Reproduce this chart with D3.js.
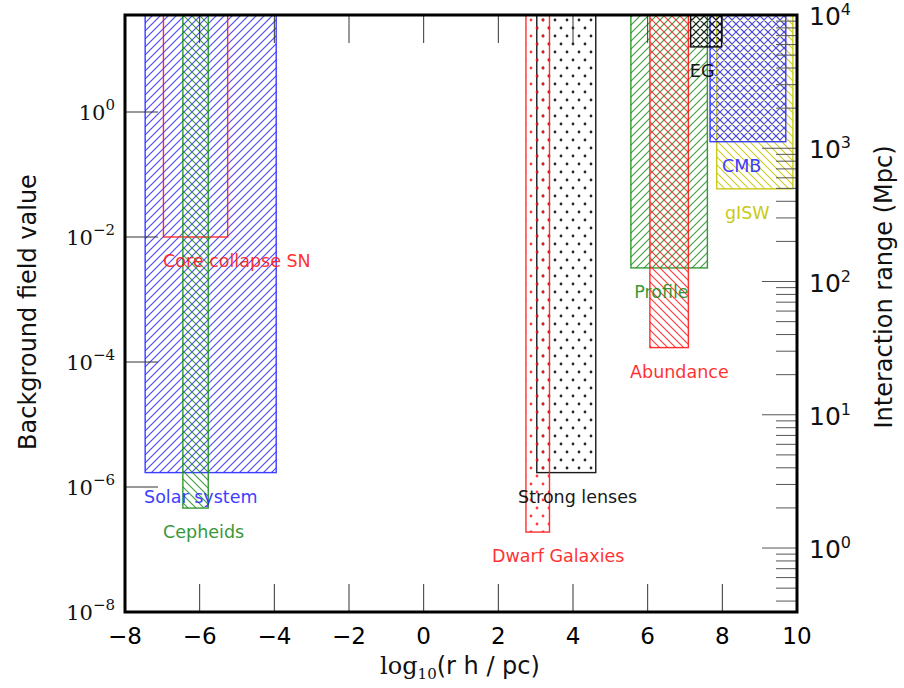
<!DOCTYPE html>
<html><head><meta charset="utf-8">
<script src="https://cdn.jsdelivr.net/npm/d3@7"></script>
<style>body{margin:0;background:#fff}svg{display:block}</style>
</head><body>
<svg id="c" width="904" height="688"></svg>
<script>
// ---- data ----
const names  = ["Solar system","Core collapse SN","Cepheids","Strong lenses","Dwarf Galaxies","Profile","Abundance","gISW","CMB","EG"];
const xMin   = [-7.46, -6.97, -6.45, 3.03, 2.74, 5.55, 6.06, 7.85, 7.67, 7.15];
const xMax   = [-3.95, -5.25, -5.77, 4.61, 3.37, 7.60, 7.09, 9.89, 9.70, 7.98];
const yMin   = [1.7e-6, 1e-2, 4.6e-7, 1.7e-6, 1.9e-7, 3.2e-3, 1.7e-4, 0.059, 0.335, 11];
const yMax   = [100, 100, 100, 100, 100, 100, 100, 100, 100, 100];
const colors = ["#2a2aff","#ff1a1a","#1f8f1f","#000000","#ff1a1a","#1f8f1f","#ff1a1a","#c4c400","#2a2aff","#000000"];
const hatches= ["/", "", "\\", ".", ".", "/", "\\", "\\", "x", "x"];
const labelX = [-7.49, -6.98, -6.98, 2.53, 1.83, 5.64, 5.53, 8.07, 7.99, 7.13];
const xTicks = [-8,-6,-4,-2,0,2,4,6,8,10];
const yLeftTicks = [-8,-6,-4,-2,0];       // exponents
const yRightTicks = [0,1,2,3,4];          // exponents

// ---- layout ----
const L=125, R=797, T=15, B=612;
const svg=d3.select("#c");
const x=d3.scaleLinear().domain([-8,10]).range([L,R]);
const yL=d3.scaleLog().domain([1e-8, Math.pow(10,1.552)]).range([B,T]);
const yR=d3.scaleLog().domain([Math.pow(10,-0.48), 1e4]).range([B,T]);

const defs=svg.append("defs");
defs.append("clipPath").attr("id","clip").append("rect")
  .attr("x",L).attr("y",T).attr("width",R-L).attr("height",B-T);

function hatchPattern(id,h,col){
  const s=8;
  if(h==="."){
    const p=defs.append("pattern").attr("id",id).attr("patternUnits","userSpaceOnUse")
      .attr("width",12).attr("height",16);
    [[3,4],[9,12]].forEach(d=>p.append("circle").attr("cx",d[0]).attr("cy",d[1]).attr("r",1.4).attr("fill",col));
    return;
  }
  const p=defs.append("pattern").attr("id",id).attr("patternUnits","userSpaceOnUse")
    .attr("width",s).attr("height",s);
  let dpath="";
  if(h==="/"||h==="x") dpath+=`M-1,1 L1,-1 M0,${s} L${s},0 M${s-1},${s+1} L${s+1},${s-1} `;
  if(h==="\\"||h==="x") dpath+=`M-1,${s-1} L1,${s+1} M0,0 L${s},${s} M${s-1},-1 L${s+1},1`;
  p.append("path").attr("d",dpath).attr("stroke",col).attr("stroke-width",1.15).attr("fill","none");
}

const g=svg.append("g").attr("clip-path","url(#clip)");
names.forEach((n,i)=>{
  const x0=x(xMin[i]), x1=x(xMax[i]), y0=yL(yMax[i]), y1=yL(yMin[i]);
  if(hatches[i]){
    const id="h"+i; hatchPattern(id,hatches[i],colors[i]);
    g.append("rect").attr("x",x0).attr("y",y0).attr("width",x1-x0).attr("height",y1-y0)
      .attr("fill",`url(#${id})`).attr("opacity",0.85);
  }
  g.append("rect").attr("x",x0).attr("y",y0).attr("width",x1-x0).attr("height",y1-y0)
    .attr("fill","none").attr("stroke",colors[i]).attr("stroke-width",1.4).attr("opacity",0.9);
});

// labels
names.forEach((n,i)=>{
  svg.append("text").attr("x",x(labelX[i])).attr("y",yL(yMin[i])+24)
    .attr("dominant-baseline","central")
    .attr("font-family","DejaVu Sans").attr("font-size",17.5)
    .attr("fill",colors[i]).attr("opacity",0.9).text(n);
});

// ticks
const tk=svg.append("g").attr("stroke","#333").attr("stroke-width",1);
xTicks.forEach(v=>{
  tk.append("line").attr("x1",x(v)).attr("x2",x(v)).attr("y1",B).attr("y2",B-28);
  tk.append("line").attr("x1",x(v)).attr("x2",x(v)).attr("y1",T).attr("y2",T+28);
});
yLeftTicks.forEach(e=>{
  const yy=yL(Math.pow(10,e));
  tk.append("line").attr("x1",L).attr("x2",L+33).attr("y1",yy).attr("y2",yy);
});
const rt=svg.append("g").attr("stroke","#555").attr("stroke-width",1);
yR.ticks(20).forEach(v=>{
  const yy=yR(v);
  if(yy<T-0.5||yy>B+0.5) return;
  const major=Math.abs(Math.log10(v)-Math.round(Math.log10(v)))<1e-9;
  rt.append("line").attr("x1",R).attr("x2",R-(major?35:21)).attr("y1",yy).attr("y2",yy);
});

// spines
svg.append("rect").attr("x",L).attr("y",T).attr("width",R-L).attr("height",B-T)
  .attr("fill","none").attr("stroke","#000").attr("stroke-width",3);

// x tick labels
xTicks.forEach(v=>{
  svg.append("text").attr("x",x(v)).attr("y",B+24).attr("text-anchor","middle")
    .attr("dominant-baseline","central").attr("font-family","DejaVu Sans").attr("font-size",23)
    .text(v<0?"\u2212"+Math.abs(v):String(v));
});
// left tick labels (serif, 10^e)
yLeftTicks.forEach(e=>{
  const t=svg.append("text").attr("x",L-10).attr("y",yL(Math.pow(10,e))+8).attr("text-anchor","end")
    .attr("font-family","DejaVu Serif").attr("font-size",21).attr("fill","#111");
  t.append("tspan").text("10");
  t.append("tspan").attr("dy",-10).attr("font-size",15).text(e<0?"\u2212"+Math.abs(e):String(e));
});
// right tick labels
yRightTicks.forEach(e=>{
  const t=svg.append("text").attr("x",R+12).attr("y",yR(Math.pow(10,e))+10)
    .attr("font-family","DejaVu Sans").attr("font-size",25).attr("fill","#111");
  t.append("tspan").text("10");
  t.append("tspan").attr("dy",-10).attr("font-size",16).text(String(e));
});

// axis titles
const xl=svg.append("text").attr("x",460).attr("y",674).attr("text-anchor","middle").attr("font-size",24).attr("fill","#111");
xl.append("tspan").attr("font-family","DejaVu Serif").text("log");
xl.append("tspan").attr("font-family","DejaVu Serif").attr("font-size",15).attr("dy",5).text("10");
xl.append("tspan").attr("font-family","DejaVu Sans").attr("dy",-5).text("(r h / pc)");

svg.append("text").attr("transform","translate(36,312) rotate(-90)").attr("text-anchor","middle")
  .attr("font-family","DejaVu Sans").attr("font-size",24).attr("fill","#111").text("Background field value");
svg.append("text").attr("transform","translate(892,287) rotate(-90)").attr("text-anchor","middle")
  .attr("font-family","DejaVu Sans").attr("font-size",24).attr("fill","#111").text("Interaction range (Mpc)");
</script>
</body></html>
